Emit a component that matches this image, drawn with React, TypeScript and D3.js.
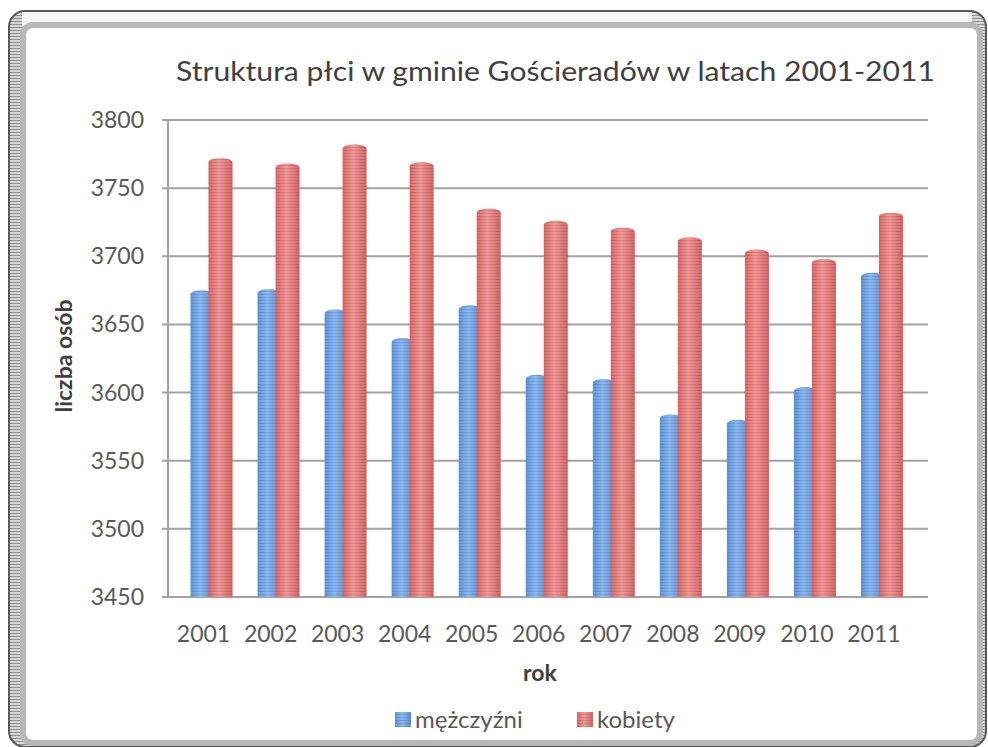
import React from "react";
import * as d3 from "d3";

const years = ["2001","2002","2003","2004","2005","2006","2007","2008","2009","2010","2011"];
const men = [3675, 3676, 3661, 3640, 3664, 3613, 3610, 3584, 3580, 3604, 3688];
const women = [3772, 3768, 3782, 3769, 3735, 3726, 3721, 3714, 3705, 3698, 3732];
const yTicks = [3450, 3500, 3550, 3600, 3650, 3700, 3750, 3800];
const seriesNames = ["mężczyźni", "kobiety"];

const W = 988, H = 747;
const FONT = "Lato, 'Open Sans', sans-serif";

export default function App() {
  const y = d3.scaleLinear().domain([3450, 3800]).range([597, 120]);
  const x = d3.scaleBand().domain(years).range([170, 907.5]).padding(0);
  const gridX0 = 168, gridX1 = 928;

  const barPath = (x0: number, w: number, v: number) => {
    const top = y(v);
    const bottom = y(3450);
    const ry = 4;
    return `M${x0},${bottom} L${x0},${top + ry} A${w / 2},${ry} 0 0 1 ${x0 + w},${top + ry} L${x0 + w},${bottom} Z`;
  };

  return (
    <svg width={W} height={H} style={{ position: "absolute", left: 0, top: 0 }}>
      <defs>
        <linearGradient id="blueG" x1="0" x2="1" y1="0" y2="0">
          <stop offset="0" stopColor="#5f96e0" />
          <stop offset="0.45" stopColor="#8cbcf4" />
          <stop offset="1" stopColor="#5b8fd8" />
        </linearGradient>
        <linearGradient id="redG" x1="0" x2="1" y1="0" y2="0">
          <stop offset="0" stopColor="#de6868" />
          <stop offset="0.45" stopColor="#f59a9a" />
          <stop offset="1" stopColor="#d96464" />
        </linearGradient>
        <pattern id="stripes" patternUnits="userSpaceOnUse" width="6" height="3">
          <rect x="0" y="0" width="6" height="1" fill="#000" opacity="0.13" />
        </pattern>
        <pattern id="frameStripes" patternUnits="userSpaceOnUse" width="6" height="3">
          <rect x="0" y="0" width="6" height="3" fill="#d6d6d6" />
          <rect x="0" y="0" width="6" height="1" fill="#909090" />
        </pattern>
      </defs>

      {/* frame */}
      <rect x={9} y={11} width={977} height={736} rx={16} fill="url(#frameStripes)" stroke="#5a5a5a" strokeWidth={2} />
      <rect x={22} y={12} width={950} height={14} fill="#f6f6f6" />
      <rect x={23} y={25} width={957} height={718} rx={10} fill="#ffffff" stroke="#b8b8b8" strokeWidth={6} />
      <rect x={30} y={33} width={945} height={705} fill="#ffffff" />

      {/* title */}
      <text x={176} y={81} fontFamily={FONT} fontSize={27} fill="#404040" textLength={759} lengthAdjust="spacingAndGlyphs">
        Struktura płci w gminie Gościeradów w latach 2001-2011
      </text>

      {/* gridlines */}
      {yTicks.map((t) => (
        <g key={t}>
          <line x1={gridX0 - 6} x2={gridX1} y1={y(t)} y2={y(t)} stroke="#a3a3a3" strokeWidth={2} />
          <text x={144} y={y(t)} dy="0.35em" textAnchor="end" fontFamily={FONT} fontSize={23} fill="#595959">
            {t}
          </text>
        </g>
      ))}
      <line x1={gridX0} x2={gridX0} y1={y(3800)} y2={y(3450)} stroke="#a3a3a3" strokeWidth={2} />

      {/* bars */}
      {years.map((yr, i) => {
        const c = (x(yr) as number) + x.bandwidth() / 2;
        const bx = c - 13, bw = 22;
        const rx = c + 5, rw = 24;
        return (
          <g key={yr}>
            <path d={barPath(bx, bw, men[i])} fill="url(#blueG)" />
            <path d={barPath(bx, bw, men[i])} fill="url(#stripes)" />
            <path d={barPath(rx, rw, women[i])} fill="url(#redG)" />
            <path d={barPath(rx, rw, women[i])} fill="url(#stripes)" />
          </g>
        );
      })}

      {/* x labels */}
      {years.map((yr) => (
        <text key={yr} x={(x(yr) as number) + x.bandwidth() / 2} y={642} textAnchor="middle" fontFamily={FONT} fontSize={23} fill="#595959">
          {yr}
        </text>
      ))}

      {/* axis titles */}
      <text x={540} y={681} textAnchor="middle" fontFamily={FONT} fontSize={23} fontWeight="bold" fill="#404040">rok</text>
      <text transform={`translate(72,356) rotate(-90)`} textAnchor="middle" fontFamily={FONT} fontSize={23} fontWeight="bold" fill="#404040">liczba osób</text>

      {/* legend */}
      <rect x={395} y={712} width={16} height={15} fill="url(#blueG)" />
      <rect x={395} y={712} width={16} height={15} fill="url(#stripes)" />
      <text x={415} y={728} fontFamily={FONT} fontSize={24} fill="#595959">{seriesNames[0]}</text>
      <rect x={577} y={712} width={16} height={15} fill="url(#redG)" />
      <rect x={577} y={712} width={16} height={15} fill="url(#stripes)" />
      <text x={597} y={728} fontFamily={FONT} fontSize={24} fill="#595959">{seriesNames[1]}</text>
    </svg>
  );
}
